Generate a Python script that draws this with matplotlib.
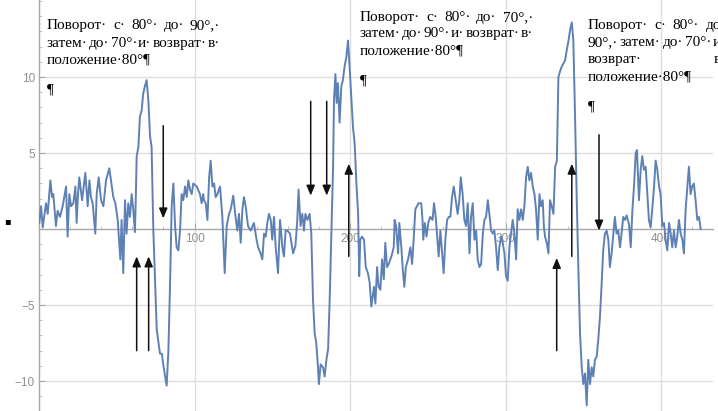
import matplotlib
matplotlib.use("Agg")
import matplotlib.pyplot as plt
from matplotlib.ticker import MultipleLocator, FixedLocator

# ---------------- data ----------------
sig_x = [0.2, 1.3, 2.4, 4.5, 5.6, 7.3, 8.4, 9.2, 10.9, 12.0, 13.5, 15.2, 17.4, 18.4, 19.5, 20.6, 22.1, 23.4,
         24.2, 25.1, 25.9, 27.7, 29.8, 31.3, 32.4, 33.4, 34.5, 36.2, 37.1, 38.4, 39.9, 41.4, 43.1, 45.2, 47.8,
         49.1, 50.6, 52.3,
         53.1, 54.2, 55.3, 56.3, 57.4, 58.5, 59.6, 60.6, 61.7, 62.3, 62.8, 63.9, 64.9, 66.0, 67.0, 68.1, 69.2,
         70.3, 71.4, 72.4, 73.5, 74.5, 75.7, 77.8, 79.0, 80.0, 82.1, 83.2, 84.3, 85.3, 86.4, 87.5, 88.5, 89.6,
         90.7, 91.7, 92.8, 93.9, 95.0, 96.0, 97.1, 98.2, 99.2, 101.4, 103.5, 104.6, 105.6,
         106.1, 107.2, 108.3, 109.4, 110.4, 111.5, 112.6, 113.6, 114.7, 116.4, 117.9, 119.4, 120.7, 122.2,
         123.3, 124.9, 126.4, 127.5, 128.6, 129.7, 130.8, 131.8, 132.9, 134.4, 136.1, 138.2, 139.9, 140.9,
         142.5, 143.6, 144.7, 145.8, 146.8, 147.9, 149.0, 150.0, 151.1, 152.2, 153.7, 155.0, 156.5, 157.5,
         158.6, 159.7, 161.4,
         163.4, 164.9, 166.1, 166.9, 168.2, 169.3, 170.4, 171.3, 172.6, 174.0, 175.1, 176.2, 177.3, 178.3,
         179.4, 180.0, 181.1, 182.6, 183.7, 184.8, 185.9, 186.9, 188.0, 189.1, 189.7, 190.6, 191.4, 192.2,
         193.3, 194.4, 195.4, 196.5, 197.6, 198.7, 199.7, 200.8, 201.9, 203.0, 204.1, 205.2, 205.9, 206.6,
         207.7, 209.0, 210.1, 211.5, 212.6, 213.7, 215.4,
         216.3, 217.4, 218.4, 219.5, 220.6, 221.7, 222.7, 223.8, 224.9, 226.6, 228.1, 228.7, 229.6, 230.9,
         231.7, 233.0, 233.8, 234.9, 235.9, 237.3, 238.8, 239.9, 240.9, 242.0, 243.0, 244.1, 245.8, 246.6,
         247.1, 248.1, 249.2, 250.3, 251.6, 253.1, 254.0, 255.1, 257.0, 258.1, 259.2, 260.2, 261.3, 262.4,
         263.5, 264.5, 265.6, 266.7, 267.7, 268.8,
         269.2, 270.3, 271.2, 272.4, 273.5, 274.6, 275.7, 276.8, 277.8, 278.9, 280.0, 281.1, 282.1, 283.2,
         284.3, 285.4, 286.4, 287.5, 288.6, 289.6, 290.7, 291.8, 292.8, 293.9, 295.0, 296.0, 297.1, 298.2,
         299.3, 300.3, 301.4, 302.5, 303.5, 304.6, 305.7, 306.8, 307.8, 308.9, 310.0, 311.1, 312.1, 313.2,
         314.3, 315.3, 316.4, 317.5, 318.6, 319.6, 320.7, 321.8, 322.8,
         323.9, 324.7, 325.4, 326.5, 327.6, 328.6, 329.7, 330.8, 331.9, 333.0, 333.4, 334.0, 335.1, 336.2,
         337.2, 338.3, 339.4, 340.5, 341.5, 342.6, 343.6, 344.7, 345.8, 346.8, 347.9, 349.0, 350.0, 351.1,
         352.2, 353.2, 354.3, 355.4, 356.4, 357.5, 358.6, 359.6, 360.7, 361.8, 362.8, 363.9, 365.0, 366.1,
         367.1, 368.2, 369.3, 370.3, 371.4, 372.5, 373.6, 374.6, 375.7, 376.8,
         377.9, 379.4, 380.5, 381.6, 382.6, 383.7, 384.5, 385.2, 385.8, 386.9, 387.9, 389.0, 390.1, 391.2,
         392.2, 393.3, 394.4, 395.5, 396.5, 397.6, 398.7, 399.7, 400.8, 401.9, 402.9, 404.0, 405.1, 406.2,
         407.2, 408.3, 409.4, 410.4, 411.5, 412.6, 413.7, 414.7, 415.8, 416.9, 417.9, 419.0, 420.0, 421.1,
         422.2, 423.3, 424.4, 425.5]
sig_y = [0.4, 1.5, 0.1, 1.7, 1.0, 3.2, 2.1, 2.3, 0.2, 1.2, 0.8, 1.5, 2.8, -0.5, 2.3, 1.5, 1.7, 2.8,
         0.4, 2.3, 3.4, 1.9, 3.7, 1.5, 3.2, 2.1, 1.7, -0.3, 2.3, 3.4, 1.9, 1.5, 3.2, 4.0, 2.1,
         1.7, 0.6, -2.0,
         0.6, -2.9, 1.9, -0.3, 1.7, 0.8, 2.3, 1.3, -0.2, 2.3, 4.8, 5.4, 7.4, 7.8, 8.9, 9.4, 9.8,
         8.5, 6.1, 5.4, 0.0, -3.0, -6.6, -8.2, -8.2, -9.0, -10.3, -8.0, -3.5, 1.5, 3.0, 0.2, -1.2, -1.4,
         -0.1, 2.3, 1.9, 2.8, 2.1, 3.2, 2.6, 2.3, 3.0, 2.8, 2.3, 1.7, 2.3,
         1.9, 1.7, 0.6, 3.4, 4.5, 2.8, 3.0, 2.1, 2.3, 2.8, 0.8, -2.9, 0.2, 1.0,
         1.3, 2.2, 0.8, -0.1, 1.0, -0.9, 1.3, 2.1, 1.5, 0.2, -0.1, 0.4, -0.7, -1.2,
         -1.6, -2.0, -0.3, -0.5, 0.4, 1.0, 0.6, -0.7, 0.8, -1.2, -2.9, 0.6, -1.2, -1.8,
         -0.1, -0.1, -0.3,
         -1.6, -1.1, 0.6, 2.6, 0.2, 1.0, -0.1, 1.0, 0.6, 1.0, -0.3, -4.7, -6.9, -7.5,
         -9.1, -10.2, -8.9, -9.1, -9.7, -8.6, -7.9, -4.7, -0.3, 4.1, 8.5, 10.2, 8.3, 9.6,
         7.0, 9.4, 9.8, 10.7, 11.3, 12.4, 10.7, 8.7, 6.7, 5.6, 3.0, 1.0, -3.1, -0.7,
         -0.5, -0.7, -2.5, -2.9, -3.5, -5.1, -3.8,
         -4.9, -2.5, -3.8, -4.0, -2.0, -3.3, -0.9, -2.5, -2.3, -1.8, -1.2, 0.6, 0.2, -1.6,
         0.4, -1.2, -2.5, -3.8, -2.5, -2.0, -1.2, -2.3, -0.7, 1.3, 1.5, 1.7, 1.7, 0.6,
         -0.7, 0.4, -0.5, 0.4, 0.8, 0.6, 1.7, 0.8, -1.8, -0.1, -1.6, -2.9, -0.7, 0.6,
         0.8, 0.8, 2.1, 2.8, 2.1, 1.3,
         1.0, 1.9, 3.4, 2.3, 0.6, 0.2, 1.7, -1.6, 0.8, 1.7, -0.7, -0.1, -2.0, -2.5,
         -2.3, -0.3, 0.6, 0.8, 1.9, 1.0, -0.1, -0.3, -0.1, -1.2, -2.7, -1.2, -0.5, -0.9,
         -1.6, -3.1, -3.4, -1.2, -0.3, 0.6, -0.3, -2.0, 1.3, 0.6, 1.3, 0.6, 1.5, 3.4,
         4.1, 3.2, 3.7, 2.8, 2.3, 1.3, -0.7, 2.3, 1.5,
         1.9, 0.1, -0.5, -0.9, -1.6, 1.9, 1.5, 1.0, 4.1, 4.5, 6.7, 10.0, 10.4, 10.7,
         10.9, 11.1, 11.8, 12.4, 13.1, 13.6, 12.4, 7.4, 1.9, -2.5, -6.9, -9.1, -10.2, -9.5,
         -11.6, -8.6, -10.2, -9.1, -9.7, -8.6, -8.4, -7.3, -5.8, -3.6, -1.4, -0.3, -0.1, -0.7,
         -2.5, -1.6, -0.3, 0.8, -0.3, -0.1, -1.2, -0.3, 0.8, 0.6,
         0.9, 0.3, -1.2, 1.3, 2.8, 5.0, 5.2, 3.4, 1.9, 3.9, 4.8, 3.9, 4.1, 2.3,
         0.6, 0.1, 1.4, 2.8, 4.5, 3.9, 2.8, 2.3, 0.2, 0.4, -0.7, -1.4, 0.4, -0.3,
         -1.2, -0.1, -1.2, -0.5, 0.6, -0.3, -0.7, -1.6, 1.3, 2.8, 4.1, 2.3, 2.8, 3.0,
         1.9, 0.6, 0.8, 0.0]

x_ticks = [100, 200, 300, 400]
y_ticks = [-10, -5, 5, 10]

# annotation arrows: x position, tail y, head y (data units)
arrow_x = [62.8, 70.5, 79.9, 174.7, 185.0, 199.2, 332.9, 342.6, 360.1]
arrow_y_tail = [-8.0, -8.0, 6.8, 8.4, 8.4, -1.8, -8.0, -1.8, 6.2]
arrow_y_head = [-1.8, -1.8, 0.7, 2.2, 2.2, 4.3, -1.9, 4.3, -0.1]

# text blocks: list of lines, each line a list of tokens; last flag = justify
block1 = [["Поворот·", "с·", "80°·", "до·", "90°,·"],
          ["затем·", "до·", "70°·", "и·", "возврат·", "в·"],
          ["положение·80°¶"],
          ["¶"]]
block2 = [["Поворот·", "с·", "80°·", "до·", "70°,·"],
          ["затем·", "до·", "90°·", "и·", "возврат·", "в·"],
          ["положение·80°¶"],
          ["¶"]]
block3 = [["Поворот·", "с·", "80°·", "до·"],
          ["90°,·", "затем·", "до·", "70°·", "и·"],
          ["возврат·", "в·"],
          ["положение·80°¶"],
          ["¶"]]

# ---------------- figure ----------------
W, H = 718, 411
fig = plt.figure(figsize=(W / 100, H / 100), dpi=100)
ax = fig.add_axes([39 / W, 0, (713 - 39) / W, 1])
ax.set_xlim(0, 433.4)
ax.set_ylim(-11.97, 15.07)

grid_c = "#dedede"
for v in x_ticks:
    ax.axvline(v, color=grid_c, lw=1.0, zorder=0)
for v in y_ticks:
    ax.axhline(v, color=grid_c, lw=1.0, zorder=0)

ax.plot(sig_x, sig_y, color="#5e81b5", lw=1.4, zorder=3, solid_joinstyle="round")

for s in ["top", "right"]:
    ax.spines[s].set_visible(False)
ax.spines["left"].set_position(("data", 0))
ax.spines["bottom"].set_position(("data", 0))
for s in ["left", "bottom"]:
    ax.spines[s].set_color("#a8a8a8")
    ax.spines[s].set_linewidth(1.0)
    ax.spines[s].set_zorder(2)

ax.xaxis.set_major_locator(FixedLocator(x_ticks))
ax.yaxis.set_major_locator(FixedLocator(y_ticks))
ax.xaxis.set_minor_locator(MultipleLocator(20))
ax.yaxis.set_minor_locator(MultipleLocator(1))
ax.set_xticklabels([str(v) for v in x_ticks])
ax.set_yticklabels([("\u2212%d" % -v) if v < 0 else str(v) for v in y_ticks])
ax.tick_params(which="major", direction="in", length=4, width=0.8, color="#a8a8a8",
               labelsize=8.5, labelcolor="#909090", pad=3)
ax.tick_params(which="minor", direction="in", length=2, width=0.6, color="#b8b8b8")
for lab in ax.get_xticklabels() + ax.get_yticklabels():
    lab.set_fontfamily("Liberation Sans")

for xa, y0, y1 in zip(arrow_x, arrow_y_tail, arrow_y_head):
    ax.annotate("", xy=(xa, y1), xytext=(xa, y0),
                arrowprops=dict(arrowstyle="-|>,head_length=0.6,head_width=0.25",
                                color="#111111", lw=1.1, shrinkA=0, shrinkB=0),
                zorder=5)

# ---------------- text blocks ----------------
renderer = fig.canvas.get_renderer()
TFONT = dict(family="Liberation Serif", fontsize=11, color="black")


def put_line(tokens, x0, x1, base, justify):
    ts = [fig.text(0, 0, t, va="baseline", ha="left", **TFONT) for t in tokens]
    widths = [t.get_window_extent(renderer).width for t in ts]
    if justify and len(tokens) > 1:
        gap = max(0.0, (x1 - x0 - sum(widths)) / (len(tokens) - 1))
    else:
        gap = 0.0
    x = x0
    for t, w in zip(ts, widths):
        t.set_position((x / W, 1 - base / H))
        x += w + gap


def put_block(block, x0, x1, baselines):
    n = len(block)
    for i, (toks, b) in enumerate(zip(block, baselines)):
        put_line(toks, x0, x1, b, justify=(i < n - 2 and len(toks) > 1) or (len(toks) > 1))


put_block(block1, 47, 220, [29, 47, 63, 93])
put_block(block2, 360, 533, [21, 37, 54, 84])
put_block(block3, 588, 726, [29, 46, 63, 80, 110])

fig.text(4 / W, 1 - 224 / H, "▪", fontsize=7, color="black", family="DejaVu Sans")

fig.savefig("out.png", dpi=100)
